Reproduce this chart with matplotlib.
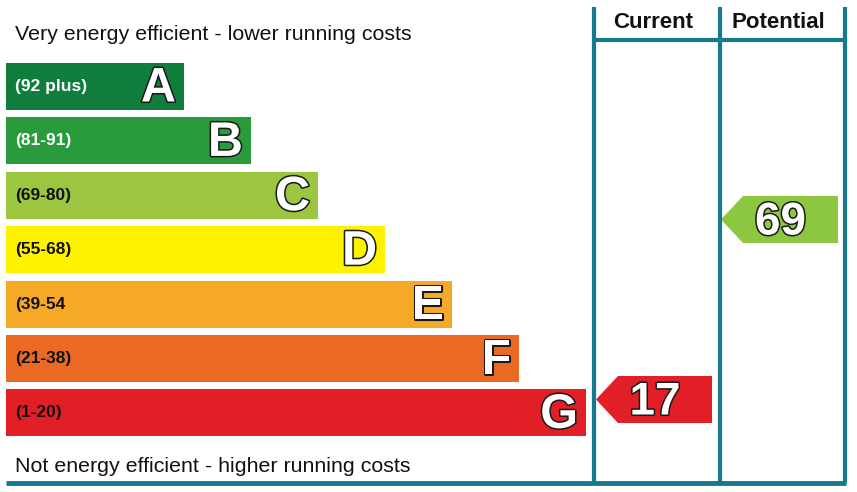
import matplotlib.pyplot as plt
import matplotlib.patheffects as pe
from matplotlib.patches import Polygon

plt.rcParams['font.family'] = ['Liberation Sans', 'DejaVu Sans']

# rating bands
letters = ['A', 'B', 'C', 'D', 'E', 'F', 'G']
ranges = ['(92 plus)', '(81-91)', '(69-80)', '(55-68)', '(39-54', '(21-38)', '(1-20)']
band_colors = ['#0f7e3d', '#2a9b3c', '#9cc63f', '#fff200', '#f5a927', '#ea6a24', '#e21f26']
label_colors = ['white', 'white', '#111111', '#111111', '#111111', '#111111', '#111111']
band_lengths = [178, 245, 312, 379, 446, 513, 580]

current = 17
potential = 69
current_color = '#e21f26'
potential_color = '#8dc63f'

teal = '#17798f'

fig = plt.figure(figsize=(8.57, 4.92), dpi=100)
ax = fig.add_axes([0, 0, 1, 1])
ax.set_xlim(0, 857)
ax.set_ylim(492, 0)
ax.axis('off')

outline = [pe.withStroke(linewidth=2.2, foreground='#1a1a1a')]

# bands
ys = [86.5 + 54.4 * i for i in range(len(letters))]
ax.barh(ys, band_lengths, height=47, left=6, color=band_colors)
for y, L, r, lc, w in zip(ys, letters, ranges, label_colors, band_lengths):
    ax.text(15, y, r, fontsize=12.5, fontweight='bold', color=lc, va='center', ha='left')
    ax.text(6 + w - 8, y + 2.5, L, fontsize=35, fontweight='bold', color='white',
            va='center', ha='right', path_effects=outline)

ax.text(15, 34.5, 'Very energy efficient - lower running costs', fontsize=15.4,
        color='#111111', va='center', ha='left')
ax.text(15, 466, 'Not energy efficient - higher running costs', fontsize=15.4,
        color='#111111', va='center', ha='left')

# table frame
for x in [594, 720, 845]:
    ax.plot([x, x], [7, 483], color=teal, lw=3, solid_capstyle='butt')
ax.plot([594, 845], [40, 40], color=teal, lw=3)
ax.plot([6, 846.5], [483, 483], color=teal, lw=3.5, solid_capstyle='butt')
ax.text(653, 23, 'Current', fontsize=16, fontweight='bold', color='#111111', ha='center', va='center')
ax.text(778, 23, 'Potential', fontsize=16, fontweight='bold', color='#111111', ha='center', va='center')


def rating_y(v):
    return 219.5 + (potential - v) * (180 / (potential - current))


def arrow(x0, x1, v, color):
    y = rating_y(v)
    h = 23.5
    pts = [(x0, y), (x0 + 22, y - h), (x1, y - h), (x1, y + h), (x0 + 22, y + h)]
    ax.add_patch(Polygon(pts, closed=True, color=color, lw=0))
    ax.text((x0 + x1) / 2 + 1, y + 3, str(v), fontsize=33, fontweight='bold', color='white',
            ha='center', va='center', path_effects=outline)


arrow(596, 712, current, current_color)
arrow(721, 838, potential, potential_color)

plt.savefig('out.png', dpi=100)
